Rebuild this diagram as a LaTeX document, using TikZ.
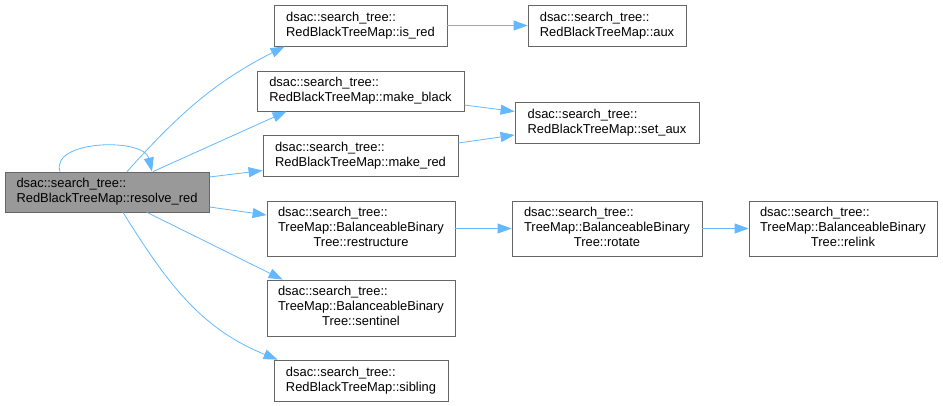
\documentclass[tikz,border=0pt]{standalone}
\usepackage{fontspec}
\setmainfont{Liberation Sans}
\usetikzlibrary{arrows.meta}
\definecolor{callblue}{HTML}{63B8FF}
\definecolor{boxgray}{HTML}{666666}
\definecolor{rootgray}{HTML}{999999}
\tikzstyle{func}=[rectangle,draw=boxgray,fill=white,line width=0.8pt,inner sep=0pt,align=left,font=\fontsize{12.9}{15}\selectfont,minimum height=41pt]
\tikzstyle{root}=[func,fill=rootgray,minimum height=40pt]
\tikzstyle{tall}=[func,minimum height=56pt]
\tikzstyle{call}=[draw=callblue,line width=0.8pt,-{Triangle[length=14pt,width=10pt]}]

\begin{document}
\begin{tikzpicture}[x=1pt,y=1pt]
			\useasboundingbox (0,0) rectangle (943,-406);
			\node (resolve) at (107,-192) [root,minimum width=204pt] {dsac::search\_tree::\\RedBlackTreeMap::resolve\_red};
			\node (isred) at (360.5,-25.5) [func,minimum width=173pt] {dsac::search\_tree::\\RedBlackTreeMap::is\_red};
			\node (aux) at (607,-25.5) [func,minimum width=158pt] {dsac::search\_tree::\\RedBlackTreeMap::aux};
			\node (mkblack) at (360.5,-91) [func,minimum width=207pt,minimum height=40pt] {dsac::search\_tree::\\RedBlackTreeMap::make\_black};
			\node (setaux) at (607,-122.5) [func,minimum width=184pt] {dsac::search\_tree::\\RedBlackTreeMap::set\_aux};
			\node (mkred) at (360.5,-155.5) [func,minimum width=195pt] {dsac::search\_tree::\\RedBlackTreeMap::make\_red};
			\node (restruct) at (361,-228.5) [tall,minimum width=188pt,minimum height=55pt] {\begin{tabular}{@{}l@{}}dsac::search\_tree::\\TreeMap::BalanceableBinary\\\multicolumn{1}{@{}c@{}}{Tree::restructure}\end{tabular}};
			\node (rotate) at (607,-228.5) [tall,minimum width=190pt,minimum height=55pt] {\begin{tabular}{@{}l@{}}dsac::search\_tree::\\TreeMap::BalanceableBinary\\\multicolumn{1}{@{}c@{}}{Tree::rotate}\end{tabular}};
			\node (relink) at (843,-228.5) [tall,minimum width=188pt,minimum height=55pt] {\begin{tabular}{@{}l@{}}dsac::search\_tree::\\TreeMap::BalanceableBinary\\\multicolumn{1}{@{}c@{}}{Tree::relink}\end{tabular}};
			\node (sentinel) at (361,-308) [tall,minimum width=188pt] {\begin{tabular}{@{}l@{}}dsac::search\_tree::\\TreeMap::BalanceableBinary\\\multicolumn{1}{@{}c@{}}{Tree::sentinel}\end{tabular}};
			\node (sibling) at (361,-380.5) [func,minimum width=174pt] {dsac::search\_tree::\\RedBlackTreeMap::sibling};
			\draw [call] ([xshift=-47pt]resolve.north) .. controls +(-10,32) and +(-8,34) .. ([xshift=45pt]resolve.north);
			\draw [call] ([xshift=20pt]resolve.north) to[out=48,in=207] ([xshift=11pt]isred.south west);
			\draw [call] ([xshift=46pt]resolve.north) -- ([xshift=30pt]mkblack.south west);
			\draw [call] ([yshift=15pt]resolve.east) -- ([yshift=-15pt]mkred.west);
			\draw [call] ([yshift=-15pt]resolve.east) -- ([yshift=13.5pt]restruct.west);
			\draw [call] ([xshift=40pt]resolve.south) -- ([xshift=16pt]sentinel.north west);
			\draw [call] ([xshift=16pt]resolve.south) to[out=-58,in=158] ([xshift=4pt]sibling.north west);
			\draw [call] (isred) -- (aux);
			\draw [call] ([yshift=-14pt]mkblack.east) -- ([yshift=11pt]setaux.west);
			\draw [call] ([yshift=12.5pt]mkred.east) -- ([yshift=-12.5pt]setaux.west);
			\draw [call] (restruct) -- (rotate);
			\draw [call] (rotate) -- (relink);
		\end{tikzpicture}
\end{document}
